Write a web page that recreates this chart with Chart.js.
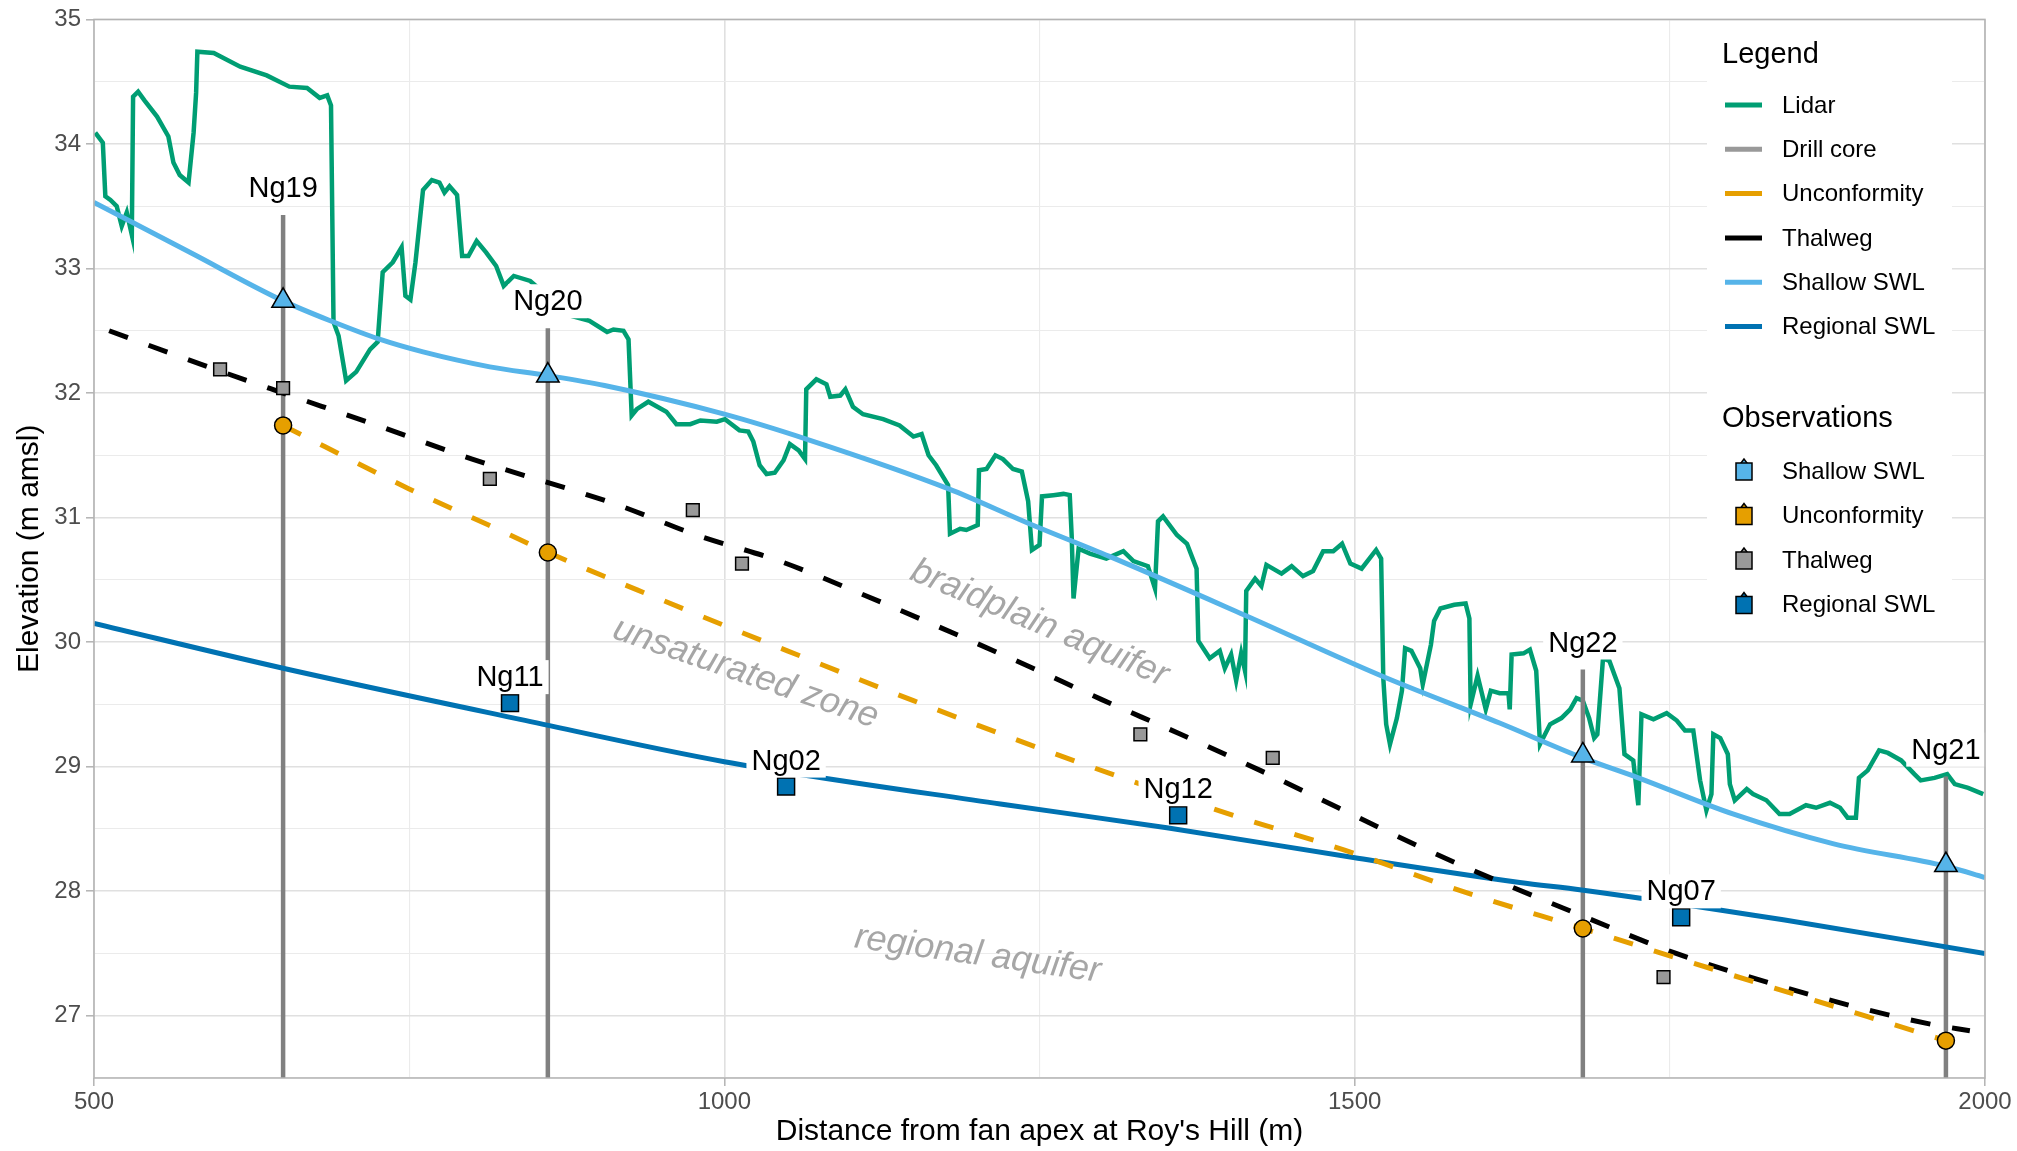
<!DOCTYPE html>
<html>
<head>
<meta charset="utf-8">
<title>Long profile - Roy's Hill fan</title>
<script src="https://cdn.jsdelivr.net/npm/chart.js@4.4.1/dist/chart.umd.min.js"></script>
<style>
  html, body { margin: 0; padding: 0; background: #fff; }
  #profile { display: block; }
</style>
</head>
<body>
<canvas id="profile" width="2017" height="1151"></canvas>
<script>
// --- Lidar ground surface (distance m, elevation m amsl)
const lidarX = [501, 507, 509, 513, 518, 522, 526, 530, 531, 535, 540, 550, 559, 563, 568, 575, 579, 581, 582, 595,
  616, 637, 655, 669, 679, 685, 688, 690, 694, 700, 708, 719, 725, 729, 737, 744, 747, 751, 755, 761,
  768, 774, 778, 782, 788, 792, 797, 803.5, 811, 819, 825, 833, 846, 862, 878, 893, 907, 912, 920, 924,
  926.5, 930.5, 939.7, 954, 962, 973, 981, 994, 1000.5, 1012, 1019, 1023, 1028, 1033.5, 1040, 1047, 1052, 1059, 1064, 1065,
  1073, 1081, 1084, 1092, 1096, 1102, 1110, 1126, 1139, 1150, 1156.5, 1162, 1168, 1177.5, 1179, 1187, 1192, 1201, 1202, 1208,
  1215, 1221, 1229, 1236, 1241, 1244, 1250, 1252, 1261, 1269, 1274, 1275.5, 1277, 1281, 1290, 1303, 1316.5, 1324.5, 1336, 1341.6,
  1344, 1348, 1359, 1367, 1374.6, 1376, 1385, 1393, 1397, 1402, 1406, 1410, 1413, 1414, 1421, 1426, 1430, 1442, 1450, 1459,
  1467, 1475, 1483, 1490, 1496.6, 1505.5, 1517, 1521, 1522.7, 1525, 1528, 1533.5, 1537.5, 1540, 1545, 1552, 1554, 1560.5, 1563, 1568,
  1579, 1588, 1591, 1592, 1597.5, 1604, 1608, 1615, 1622, 1623, 1624.5, 1634, 1639, 1644, 1647, 1655, 1664, 1671, 1676, 1681,
  1686, 1690, 1692.5, 1697, 1702, 1706, 1710, 1714, 1721, 1725, 1727.5, 1737, 1747.5, 1755.5, 1762, 1768.6, 1774, 1779, 1783, 1784.5,
  1790, 1796, 1797.6, 1801.5, 1811, 1816, 1826.6, 1837, 1845, 1858, 1866, 1877, 1885, 1891, 1897.6, 1900, 1907, 1916, 1923, 1933.5,
  1944, 1949, 1960, 1970, 1976, 1986.6, 1998.6];
const lidarY = [34.09, 34.01, 33.58, 33.55, 33.50, 33.34, 33.45, 33.27, 34.38, 34.42, 34.35, 34.22, 34.06, 33.85, 33.75, 33.69, 34.09, 34.41, 34.74, 34.73,
  34.62, 34.55, 34.46, 34.45, 34.37, 34.39, 34.31, 32.57, 32.46, 32.10, 32.17, 32.35, 32.41, 32.97, 33.05, 33.17, 32.78, 32.75, 33.05, 33.63,
  33.71, 33.69, 33.61, 33.66, 33.59, 33.10, 33.10, 33.22, 33.13, 33.02, 32.86, 32.94, 32.90, 32.76, 32.62, 32.58, 32.49, 32.51, 32.50, 32.43,
  31.82, 31.87, 31.93, 31.85, 31.75, 31.75, 31.78, 31.77, 31.79, 31.70, 31.69, 31.61, 31.42, 31.35, 31.36, 31.46, 31.59, 31.54, 31.47, 32.03,
  32.11, 32.07, 31.97, 31.98, 32.03, 31.89, 31.83, 31.79, 31.74, 31.65, 31.67, 31.50, 31.42, 31.26, 30.87, 30.91, 30.90, 30.94, 31.38, 31.39,
  31.50, 31.47, 31.39, 31.37, 31.13, 30.74, 30.78, 31.17, 31.18, 31.19, 31.18, 30.86, 30.35, 30.75, 30.71, 30.67, 30.73, 30.65, 30.61, 30.43,
  30.97, 31.01, 30.86, 30.79, 30.59, 30.01, 29.87, 29.93, 29.79, 29.90, 29.69, 29.91, 29.77, 30.41, 30.51, 30.45, 30.62, 30.55, 30.61, 30.53,
  30.57, 30.73, 30.73, 30.79, 30.63, 30.59, 30.74, 30.67, 29.71, 29.34, 29.18, 29.39, 29.61, 29.95, 29.93, 29.79, 29.66, 29.98, 30.17, 30.27,
  30.30, 30.31, 30.19, 29.50, 29.73, 29.46, 29.61, 29.59, 29.59, 29.46, 29.90, 29.91, 29.94, 29.77, 29.18, 29.34, 29.39, 29.46, 29.55, 29.53,
  29.39, 29.23, 29.26, 29.87, 29.85, 29.74, 29.63, 29.10, 29.05, 28.69, 29.42, 29.38, 29.43, 29.37, 29.29, 29.29, 28.89, 28.65, 28.78, 29.26,
  29.23, 29.10, 28.86, 28.73, 28.82, 28.78, 28.73, 28.62, 28.62, 28.69, 28.67, 28.71, 28.67, 28.59, 28.59, 28.91, 28.97, 29.13, 29.11, 29.05,
  28.94, 28.89, 28.91, 28.94, 28.86, 28.83, 28.78];

// --- fitted surfaces
const shallowX = [500, 576, 650, 690, 727, 761, 814, 860, 905, 1000, 1065, 1178, 1242, 1305, 1412, 1521, 1615, 1681, 1725, 1800, 1880, 1969, 2000];
const shallowY = [33.53, 33.13, 32.74, 32.57, 32.43, 32.33, 32.21, 32.14, 32.06, 31.83, 31.63, 31.23, 30.95, 30.69, 30.22, 29.73, 29.35, 29.07, 28.91, 28.62, 28.38, 28.20, 28.11];

const regionalX = [500, 650, 838, 1000, 1219, 1351, 1499, 1631, 1680, 1840, 2000];
const regionalY = [30.15, 29.79, 29.38, 29.04, 28.70, 28.51, 28.27, 28.07, 28.01, 27.77, 27.50];

const thalwegFitX = [512, 585, 650, 716, 800, 913, 978, 1044, 1108, 1236, 1299, 1362, 1425, 1487, 1551, 1614, 1681, 1755, 1827, 1894, 1958, 1988];
const thalwegFitY = [32.50, 32.23, 32.00, 31.77, 31.47, 31.11, 30.86, 30.65, 30.39, 29.83, 29.54, 29.26, 28.97, 28.67, 28.36, 28.08, 27.80, 27.50, 27.27, 27.08, 26.93, 26.88];

const unconfFitX = [650, 750, 813, 860, 950, 1050, 1150, 1263, 1394, 1492, 1591, 1681, 1763, 1969];
const unconfFitY = [31.74, 31.23, 30.94, 30.72, 30.34, 29.93, 29.53, 29.10, 28.64, 28.33, 27.98, 27.70, 27.44, 26.80];

// --- drill holes
const wells = ['Ng19', 'Ng20', 'Ng22', 'Ng21'];
const wellX = [650, 860, 1681, 1969];
const drillTop = [33.43, 32.52, 29.78, 28.92];
const shallowObsY = [32.74, 32.14, 29.09, 28.21];
const unconfObsY = [31.74, 30.72, 27.70, 26.80];

const thalwegObsX = [600, 650, 814, 975, 1014, 1330, 1435, 1745];
const thalwegObsY = [32.19, 32.04, 31.31, 31.06, 30.63, 29.26, 29.07, 27.31];

const regionalWells = ['Ng11', 'Ng02', 'Ng12', 'Ng07'];
const regionalObsX = [830, 1049, 1360, 1759];
const regionalObsY = [29.51, 28.84, 28.61, 27.79];

// --- axis ranges and ticks
const xRange = [500, 2000];
const yRange = [26.5, 35];
const xLabelStep = 500;

const zoneNotes = [
  { text: 'braidplain aquifer', x: 1250, y: 30.15, angle: 23 },
  { text: 'unsaturated zone', x: 1017, y: 29.75, angle: 19 },
  { text: 'regional aquifer', x: 1201, y: 27.49, angle: 8 }
];

const FONT = '"Liberation Sans", Arial, Helvetica, sans-serif';
const COL = {
  lidar: '#009E73', drill: '#808080', unconf: '#E69F00', thalweg: '#000000',
  shallow: '#56B4E9', regional: '#0072B2', thalwegPt: '#999999'
};

const toPts = (xs, ys) => xs.map((x, i) => ({ x: x, y: ys[i] }));

// drill cores as one broken line: bottom of plot up to core top
const drillPts = [];
wellX.forEach((x, i) => {
  drillPts.push({ x: x, y: yRange[0] }, { x: x, y: drillTop[i] }, { x: x, y: null });
});

const isMajorX = v => v % xLabelStep === 0;
const isMajorY = v => Math.abs(v - Math.round(v)) < 1e-6;

function drawTag(ctx, text, x, y) {
  ctx.font = '29px ' + FONT;
  const w = ctx.measureText(text).width;
  ctx.fillStyle = '#fff';
  ctx.fillRect(x - w / 2 - 5, y - 17, w + 10, 34);
  ctx.fillStyle = '#000';
  ctx.textAlign = 'center';
  ctx.textBaseline = 'middle';
  ctx.fillText(text, x, y + 1);
}

function obsGlyph(ctx, x, y, fill) {
  ctx.fillStyle = fill;
  ctx.strokeStyle = '#000';
  ctx.lineWidth = 1.5;
  ctx.beginPath();
  ctx.moveTo(x, y - 12);
  ctx.lineTo(x - 6, y - 4);
  ctx.lineTo(x + 6, y - 4);
  ctx.closePath();
  ctx.fill(); ctx.stroke();
  ctx.beginPath();
  ctx.rect(x - 8, y - 8, 16, 17);
  ctx.fill(); ctx.stroke();
}

const overlay = {
  id: 'overlay',
  afterDatasetsDraw(chart) {
    const { ctx, chartArea: a, scales: { x: xs, y: ys } } = chart;
    ctx.save();

    // zone annotations
    ctx.fillStyle = '#a6a6a6';
    ctx.font = 'italic 36px ' + FONT;
    ctx.textAlign = 'center';
    ctx.textBaseline = 'middle';
    zoneNotes.forEach(n => {
      ctx.save();
      ctx.translate(xs.getPixelForValue(n.x), ys.getPixelForValue(n.y));
      ctx.rotate(n.angle * Math.PI / 180);
      ctx.fillText(n.text, 0, 0);
      ctx.restore();
    });

    // well labels
    wells.forEach((w, i) => drawTag(ctx, w, xs.getPixelForValue(wellX[i]), ys.getPixelForValue(drillTop[i]) - 27));
    regionalWells.forEach((w, i) => drawTag(ctx, w, xs.getPixelForValue(regionalObsX[i]), ys.getPixelForValue(regionalObsY[i]) - 26));

    // legend panel
    const lx = a.right - 278;
    ctx.fillStyle = '#fff';
    ctx.fillRect(lx, a.top + 4, 245, 605);
    ctx.fillStyle = '#000';
    ctx.textAlign = 'left';
    ctx.font = '29px ' + FONT;
    ctx.fillText('Legend', lx + 15, 55);
    const lineKeys = [
      ['Lidar', COL.lidar], ['Drill core', '#999999'], ['Unconformity', COL.unconf],
      ['Thalweg', COL.thalweg], ['Shallow SWL', COL.shallow], ['Regional SWL', COL.regional]
    ];
    ctx.font = '24px ' + FONT;
    lineKeys.forEach(([name, c], i) => {
      const yy = 105 + i * 44.3;
      ctx.strokeStyle = c;
      ctx.lineWidth = 5;
      ctx.beginPath();
      ctx.moveTo(lx + 18, yy);
      ctx.lineTo(lx + 55, yy);
      ctx.stroke();
      ctx.fillStyle = '#000';
      ctx.fillText(name, lx + 75, yy + 1);
    });
    ctx.font = '29px ' + FONT;
    ctx.fillText('Observations', lx + 15, 419);
    const obsKeys = [
      ['Shallow SWL', COL.shallow], ['Unconformity', COL.unconf],
      ['Thalweg', COL.thalwegPt], ['Regional SWL', COL.regional]
    ];
    obsKeys.forEach(([name, c], i) => {
      const yy = 471 + i * 44.5;
      obsGlyph(ctx, lx + 37, yy, c);
      ctx.fillStyle = '#000';
      ctx.font = '24px ' + FONT;
      ctx.fillText(name, lx + 75, yy + 1);
    });

    // panel border
    ctx.strokeStyle = '#b3b3b3';
    ctx.lineWidth = 1.5;
    ctx.strokeRect(a.left, a.top, a.right - a.left, a.bottom - a.top);

    // axis titles
    ctx.fillStyle = '#000';
    ctx.font = '30px ' + FONT;
    ctx.textAlign = 'center';
    ctx.textBaseline = 'middle';
    ctx.fillText("Distance from fan apex at Roy's Hill (m)", (a.left + a.right) / 2, 1132);
    ctx.save();
    ctx.translate(30, (a.top + a.bottom) / 2);
    ctx.rotate(-Math.PI / 2);
    ctx.fillText('Elevation (m amsl)', 0, 0);
    ctx.restore();

    ctx.restore();
  }
};

Chart.defaults.font.family = FONT;

const lineSet = (label, xs, ys, color, extra) => Object.assign({
  label: label, data: toPts(xs, ys), borderColor: color, backgroundColor: color,
  borderWidth: 5, pointRadius: 0, fill: false, tension: 0
}, extra);

const pointSet = (label, xs, ys, fill, style, r, order) => ({
  label: label, data: toPts(xs, ys), showLine: false, pointStyle: style, pointRadius: r,
  pointBackgroundColor: fill, pointBorderColor: '#000', pointBorderWidth: 1.5, order: order
});

new Chart(document.getElementById('profile'), {
  type: 'line',
  data: {
    datasets: [
      lineSet('Lidar', lidarX, lidarY, COL.lidar, { borderWidth: 4.5, order: 10 }),
      { label: 'Drill core', data: drillPts, borderColor: COL.drill, borderWidth: 4.5, pointRadius: 0, spanGaps: false, order: 9 },
      lineSet('Shallow SWL', shallowX, shallowY, COL.shallow, { cubicInterpolationMode: 'monotone', order: 8 }),
      lineSet('Regional SWL', regionalX, regionalY, COL.regional, { cubicInterpolationMode: 'monotone', order: 7 }),
      lineSet('Thalweg', thalwegFitX, thalwegFitY, COL.thalweg, { borderDash: [20, 22], cubicInterpolationMode: 'monotone', order: 6 }),
      lineSet('Unconformity', unconfFitX, unconfFitY, COL.unconf, { borderDash: [20, 22], cubicInterpolationMode: 'monotone', order: 5 }),
      pointSet('Thalweg obs', thalwegObsX, thalwegObsY, COL.thalwegPt, 'rect', 9, 4),
      pointSet('Regional SWL obs', regionalObsX, regionalObsY, COL.regional, 'rect', 12, 3),
      pointSet('Unconformity obs', wellX, unconfObsY, COL.unconf, 'circle', 8.5, 2),
      pointSet('Shallow SWL obs', wellX, shallowObsY, COL.shallow, 'triangle', 13, 1)
    ]
  },
  options: {
    responsive: false,
    devicePixelRatio: 1,
    animation: false,
    events: [],
    layout: { padding: { left: 0, top: 16, right: 32, bottom: 0 } },
    plugins: { legend: { display: false }, tooltip: { enabled: false } },
    scales: {
      x: {
        type: 'linear', min: xRange[0], max: xRange[1],
        afterFit: s => { s.height = 73; },
        border: { display: false },
        ticks: {
          stepSize: 250, autoSkip: false, maxRotation: 0, padding: 2,
          color: '#4d4d4d', font: { size: 24 },
          callback: v => (isMajorX(v) ? String(v) : '')
        },
        grid: {
          color: c => (isMajorX(c.tick.value) ? '#e0e0e0' : '#ebebeb'),
          lineWidth: c => (isMajorX(c.tick.value) ? 1.6 : 1.1),
          tickLength: 8,
          tickWidth: 1.5,
          tickColor: c => (isMajorX(c.tick.value) ? '#b3b3b3' : 'rgba(0,0,0,0)')
        }
      },
      y: {
        type: 'linear', min: yRange[0], max: yRange[1],
        afterFit: s => { s.width = 94; },
        border: { display: false },
        ticks: {
          stepSize: 0.5, autoSkip: false, padding: 5,
          color: '#4d4d4d', font: { size: 24 },
          callback: v => (isMajorY(v) ? String(Math.round(v)) : '')
        },
        grid: {
          color: c => (isMajorY(c.tick.value) ? '#e0e0e0' : '#ebebeb'),
          lineWidth: c => (isMajorY(c.tick.value) ? 1.6 : 1.1),
          tickLength: 8,
          tickWidth: 1.5,
          tickColor: c => (isMajorY(c.tick.value) ? '#b3b3b3' : 'rgba(0,0,0,0)')
        }
      }
    }
  },
  plugins: [overlay]
});
</script>
</body>
</html>
